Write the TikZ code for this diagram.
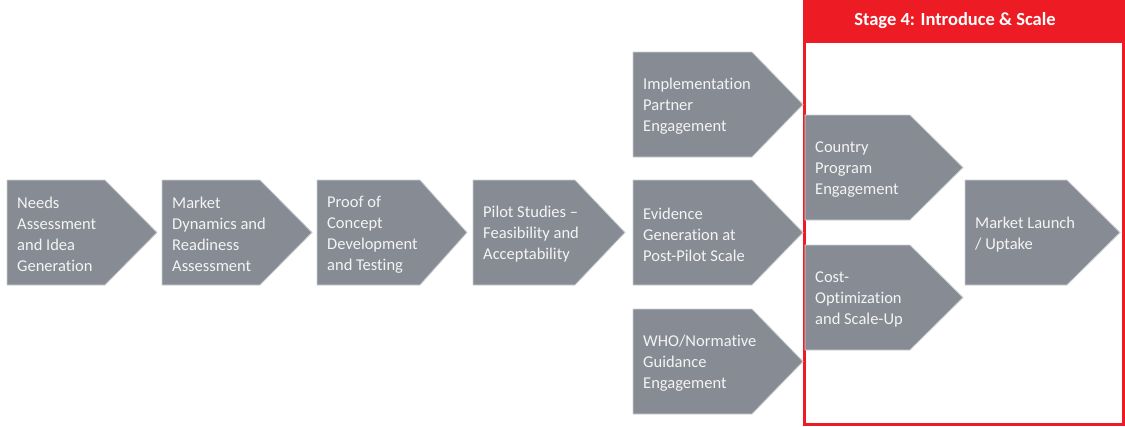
\documentclass[tikz,border=0pt]{standalone}
\usepackage{fontspec}
\setmainfont{Carlito}[Ligatures={NoCommon}]
\definecolor{chevgray}{HTML}{878B94}
\definecolor{chevedge}{HTML}{CDCFD3}
\definecolor{chevtxt}{HTML}{F4F4F4}
\definecolor{stagered}{HTML}{ED1C24}
\tikzset{
  chevfill/.style={fill=chevgray, draw=chevedge, line width=0.8pt},
  chevtext/.style={inner sep=0pt, align=left, text=chevtxt, anchor=west,
    font=\fontsize{16.5}{21}\selectfont},
}
\newcommand\chev[7]{%
  \filldraw[chevfill] (#2,#3) -- (#4,#3) -- (#5,{(#3+#6)/2}) -- (#4,#6) -- (#2,#6) -- cycle;
  \node[chevtext] (#1) at ({#2+10},{(#3+#6)/2+2}) {#7};
}
\begin{document}
\begin{tikzpicture}[x=1pt,y=-1pt]
\useasboundingbox (0,0) rectangle (1125,426);
% stage 4 frame
\draw[stagered, line width=3pt] (804.5,1.5) rectangle (1123.5,424.5);
\fill[stagered] (803,0) rectangle (1125,43);
\node[font=\fontsize{18.5}{22}\selectfont\bfseries, text=white, inner sep=0pt] (stage) at (955,21) {Stage 4: Introduce \& Scale};
% main row
\chev{needs}{7}{180}{105}{157}{285}{Needs\\Assessment\\and Idea\\Generation}
\chev{market}{162}{180}{260}{312}{285}{Market\\Dynamics and\\Readiness\\Assessment}
\chev{proof}{317}{180}{420}{467}{285}{Proof of\\Concept\\Development\\and Testing}
\chev{pilot}{473}{180}{575}{625}{285}{Pilot Studies --\\Feasibility and\\Acceptability}
% column
\chev{impl}{633}{52}{752}{803}{157}{Implementation\\Partner\\Engagement}
\chev{evid}{633}{180}{752}{803}{285}{Evidence\\Generation at\\Post-Pilot Scale}
\chev{who}{633}{309}{752}{803}{414}{WHO/Normative\\Guidance\\Engagement}
% stage 4
\chev{country}{805}{115}{910}{963}{220}{Country\\Program\\Engagement}
\chev{cost}{805}{245}{910}{963}{350}{Cost-\\Optimization\\and Scale-Up}
\chev{launch}{965}{180}{1067}{1120}{285}{Market Launch\\/ Uptake}
\end{tikzpicture}
\end{document}
